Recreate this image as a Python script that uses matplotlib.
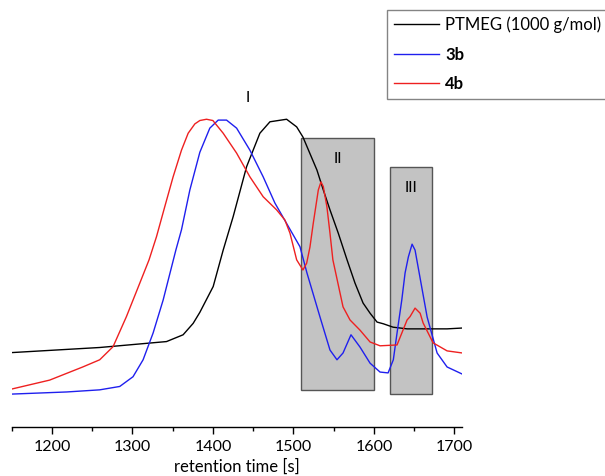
import matplotlib
matplotlib.use("Agg")
import matplotlib.pyplot as plt
from matplotlib.patches import Rectangle

plt.rcParams['font.family'] = ['Lato', 'DejaVu Sans']

# retention time [s] and detector signal (arbitrary units)
ptmeg_t = [1150.2, 1259.3, 1342.3, 1362.9, 1375.4, 1383.7, 1400.3, 1412.7, 1425.1, 1441.8,
           1458.3, 1470.8, 1491.5, 1504.0, 1511.8, 1529.2, 1537.1, 1545.4, 1555.7, 1566.6,
           1576.5, 1586.5, 1595.2, 1603.9, 1611.7, 1623.8, 1641.2, 1669.8, 1690.9, 1710.0]
ptmeg_y = [19.1, 20.3, 21.7, 23.3, 26.0, 28.6, 34.7, 43.3, 51.2, 63.0,
           70.9, 73.6, 74.2, 72.4, 70.0, 62.2, 57.5, 52.8, 47.3, 41.0,
           35.5, 30.8, 28.4, 26.3, 25.9, 25.1, 24.7, 24.7, 24.7, 24.9]

b3_t = [1150.2, 1218.3, 1259.3, 1284.2, 1300.7, 1313.2, 1325.6, 1338.1, 1353.9, 1360.9,
        1371.3, 1383.7, 1396.1, 1406.5, 1416.9, 1429.4, 1445.9, 1462.4, 1477.0, 1491.5,
        1508.1, 1516.8, 1533.0, 1545.4, 1554.1, 1561.6, 1571.5, 1582.7, 1595.2, 1607.6,
        1617.6, 1624.1, 1628.7, 1634.6, 1638.7, 1642.8, 1647.4, 1651.1, 1654.9, 1666.1,
        1678.5, 1690.9, 1710.0]
b3_y = [9.3, 9.8, 10.3, 11.1, 13.4, 17.4, 23.7, 31.5, 43.3, 48.1,
        57.5, 66.4, 72.1, 74.0, 74.0, 72.1, 66.9, 60.6, 54.4, 49.6,
        44.1, 37.9, 27.5, 19.7, 17.4, 19.0, 23.3, 20.4, 16.6, 14.5,
        14.3, 17.4, 23.7, 31.5, 37.9, 41.7, 44.7, 43.3, 39.3, 27.5,
        19.0, 15.7, 14.0]

b4_t = [1150.2, 1197.1, 1238.2, 1259.3, 1275.9, 1292.5, 1309.1, 1320.6, 1329.9, 1340.2,
        1350.5, 1360.9, 1369.2, 1377.5, 1383.7, 1392.0, 1399.9, 1412.7, 1429.4, 1445.9,
        1462.4, 1479.1, 1489.4, 1495.7, 1504.0, 1511.8, 1516.4, 1520.5, 1524.6, 1530.9,
        1534.2, 1537.1, 1541.6, 1545.4, 1549.0, 1561.6, 1570.3, 1582.7, 1595.2, 1607.6,
        1628.7, 1641.2, 1644.9, 1651.1, 1657.4, 1661.1, 1673.5, 1690.9, 1710.0]
b4_y = [10.5, 12.6, 15.7, 17.4, 20.5, 27.6, 35.5, 41.0, 46.5, 53.6,
        60.6, 66.9, 70.9, 73.1, 73.9, 74.2, 73.9, 70.9, 66.2, 60.6,
        55.9, 52.8, 50.4, 47.3, 41.0, 38.6, 40.2, 44.0, 49.6, 57.5,
        59.4, 58.3, 53.5, 47.3, 41.0, 29.9, 26.8, 24.4, 21.6, 20.7,
        20.9, 26.8, 27.6, 29.6, 28.4, 26.1, 21.4, 19.5, 19.0]

# shaded regions
region_labels = ['II', 'III']
region_t0 = [1510, 1620]
region_t1 = [1600, 1672]
region_lo = [10.3, 9.3]
region_hi = [69.8, 63.0]

fig = plt.figure(figsize=(6.05, 4.76), dpi=100)
ax = fig.add_axes([0.0194, 0.1036, 0.745, 0.8754])

for lab, t0, t1, lo, hi in zip(region_labels, region_t0, region_t1, region_lo, region_hi):
    ax.add_patch(Rectangle((t0, lo), t1 - t0, hi - lo, facecolor='#c3c3c3',
                           edgecolor='#555555', linewidth=1.0, zorder=1))
    ax.text((t0 + t1) / 2, hi - 5, lab, ha='center', va='center', fontsize=11, zorder=4)

ax.text(1443.5, 79.2, 'I', ha='center', va='center', fontsize=11)

l1, = ax.plot(ptmeg_t, ptmeg_y, color='black', lw=1.0, zorder=3)
l2, = ax.plot(b3_t, b3_y, color='#1f1fee', lw=1.0, zorder=3)
l3, = ax.plot(b4_t, b4_y, color='#ee2020', lw=1.0, zorder=3)

ax.set_xlim(1150, 1710)
ax.set_ylim(1.6, 100)
for s in ['top', 'right', 'left']:
    ax.spines[s].set_visible(False)
ax.spines['bottom'].set_linewidth(1.0)
ax.set_yticks([])
ax.set_xticks(range(1200, 1701, 100))
ax.set_xticks(range(1150, 1711, 50), minor=True)
ax.tick_params(axis='x', which='major', length=4.8, width=1, labelsize=11.5, pad=5)
ax.tick_params(axis='x', which='minor', length=2.9, width=1)
ax.set_xlabel('retention time [s]', fontsize=12, labelpad=3)

leg = fig.legend([l1, l2, l3], ['PTMEG (1000 g/mol)', '3b', '4b'],
                 loc='upper left', bbox_to_anchor=(387 / 605, 1 - 10 / 476),
                 frameon=True, fancybox=False, fontsize=12, handlelength=2.7,
                 handletextpad=0.4, borderpad=0.4, labelspacing=0.8,
                 borderaxespad=0)
leg.get_frame().set_edgecolor('#666666')
leg.get_frame().set_linewidth(1.0)
for t in leg.get_texts()[1:]:
    t.set_fontweight('bold')

fig.savefig('out.png', dpi=100)
